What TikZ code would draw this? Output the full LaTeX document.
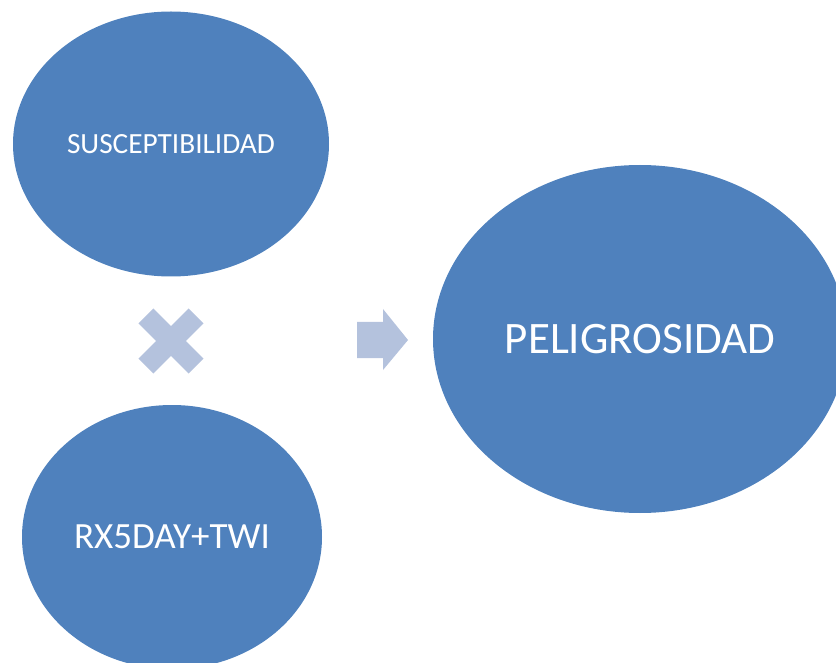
\documentclass[tikz,border=0pt]{standalone}
\usepackage{fontspec}
\setmainfont{Carlito}
\usetikzlibrary{positioning, shapes.geometric}

\begin{document}
\begin{tikzpicture}[
        x=1pt, y=-1pt
    ]
        % Define custom colors matching the slide
        \definecolor{riskblue}{RGB}{79,129,189}
        \definecolor{risklight}{RGB}{180,194,221}

        % Define node styles
        \tikzstyle{bubble}=[
            ellipse,
            fill=riskblue,
            text=white,
            inner sep=0pt,
            align=center
        ]
        \tikzstyle{crossbar}=[
            rectangle,
            fill=risklight,
            inner sep=0pt,
            minimum width=71pt,
            minimum height=21pt
        ]

        % --- Page frame ---
        \useasboundingbox (0,0) rectangle (836,663);
        \clip (0,0) rectangle (836,663);

        % --- Left column (factors) ---
        \node[bubble, minimum width=316pt, minimum height=265pt,
              font=\fontsize{29.3}{34}\selectfont] (suscept) at (171,144) {SUSCEPTIBILIDAD};
        \node[bubble, minimum width=300pt, minimum height=264pt,
              font=\fontsize{37}{42}\selectfont,
              below=393pt of suscept.center, anchor=center, xshift=1pt] (rain) {RX5DAY+TWI};

        % --- Right result ---
        \node[bubble, minimum width=414pt, minimum height=348pt,
              font=\fontsize{45}{52}\selectfont] (hazard) at (640,339) {PELIGROSIDAD};

        % --- Times sign between the factors ---
        \coordinate (times) at (171,341);
        \node[crossbar, rotate=45] (barA) at (times) {};
        \node[crossbar, rotate=-45] (barB) at (times) {};

        % --- Block arrow toward the result ---
        \coordinate (arrowtail) at (357,340);
        \fill[risklight] (arrowtail) ++(0,-18) -- ++(26,0) -- ++(0,-13)
            -- ++(25,31) -- ++(-25,30) -- ++(0,-12) -- ++(-26,0) -- cycle;

    \end{tikzpicture}
\end{document}
